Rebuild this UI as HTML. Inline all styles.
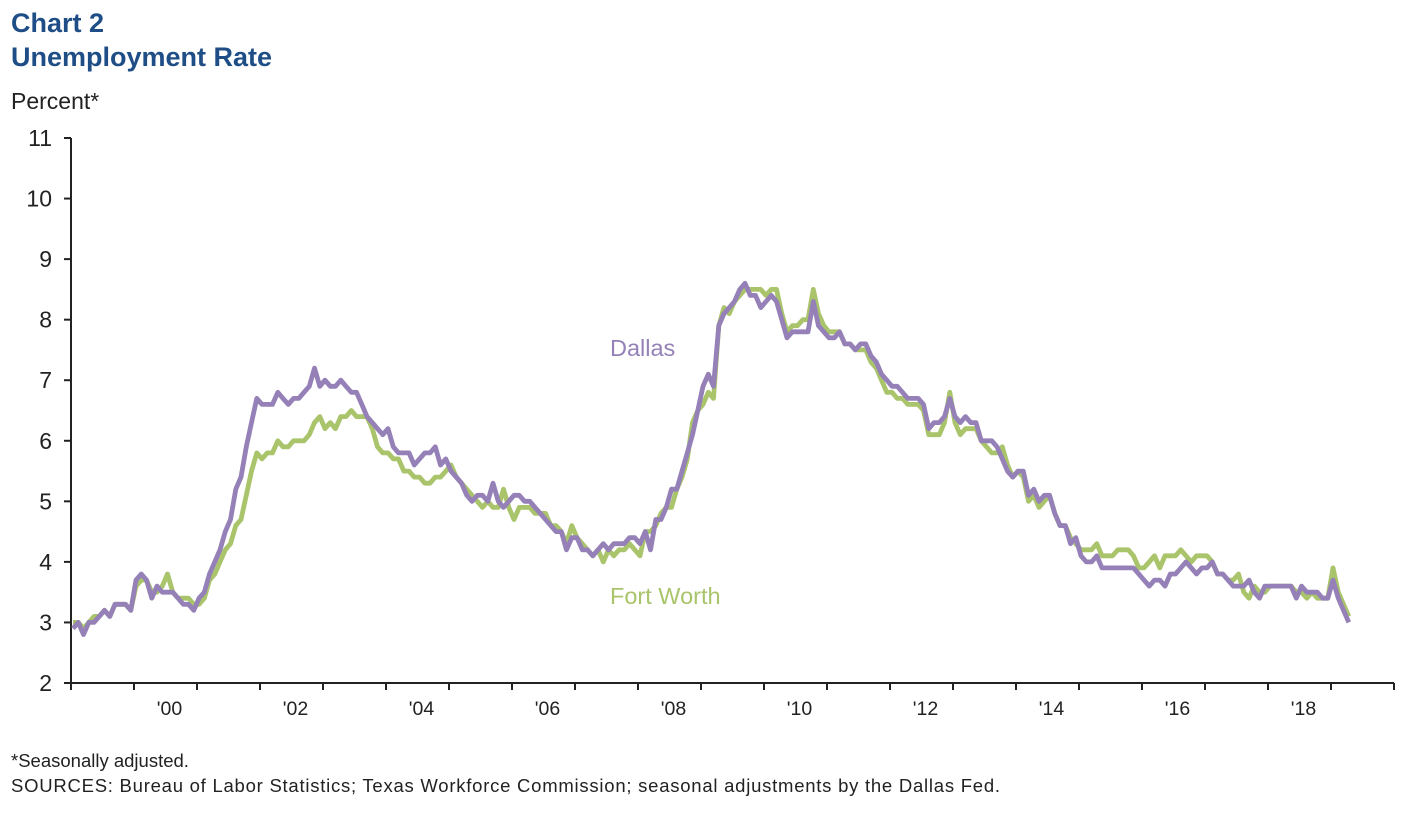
<!DOCTYPE html>
<html><head><meta charset="utf-8"><style>
body{margin:0;background:#fff;font-family:"Liberation Sans",Arial,sans-serif}
svg text{font-family:"Liberation Sans",Arial,sans-serif}
</style></head><body>
<svg width="1422" height="810" xmlns="http://www.w3.org/2000/svg">
<text x="11" y="32" font-size="27" font-weight="bold" fill="#1f4e87">Chart 2</text>
<text x="11" y="66" font-size="27" font-weight="bold" fill="#1f4e87">Unemployment Rate</text>
<text x="11" y="109" font-size="23" fill="#222">Percent*</text>
<g id="yaxis"></g>
<g id="xaxis"></g>
<g id="series"></g>
<text x="610" y="356" font-size="23.5" fill="#9581b7">Dallas</text>
<text x="610" y="604" font-size="23.5" fill="#a9c46a">Fort Worth</text>
<text x="11" y="767" font-size="18.5" fill="#222">*Seasonally adjusted.</text>
<text x="11" y="792" font-size="18.5" fill="#222" textLength="989" lengthAdjust="spacing">SOURCES: Bureau of Labor Statistics; Texas Workforce Commission; seasonal adjustments by the Dallas Fed.</text>
</svg>
<script>
const yTicks=[2,3,4,5,6,7,8,9,10,11];
const xLabels=["'00","'02","'04","'06","'08","'10","'12","'14","'16","'18"];
const startYear=1999, endYear=2020;
const dallas=[
2.9,3.0,2.8,3.0,3.0,3.1,3.2,3.1,3.3,3.3,3.3,3.2,
3.7,3.8,3.7,3.4,3.6,3.5,3.5,3.5,3.4,3.3,3.3,3.2,
3.4,3.5,3.8,4.0,4.2,4.5,4.7,5.2,5.4,5.9,6.3,6.7,
6.6,6.6,6.6,6.8,6.7,6.6,6.7,6.7,6.8,6.9,7.2,6.9,
7.0,6.9,6.9,7.0,6.9,6.8,6.8,6.6,6.4,6.3,6.2,6.1,
6.2,5.9,5.8,5.8,5.8,5.6,5.7,5.8,5.8,5.9,5.6,5.7,
5.5,5.4,5.3,5.1,5.0,5.1,5.1,5.0,5.3,5.0,4.9,5.0,
5.1,5.1,5.0,5.0,4.9,4.8,4.7,4.6,4.5,4.5,4.2,4.4,
4.4,4.2,4.2,4.1,4.2,4.3,4.2,4.3,4.3,4.3,4.4,4.4,
4.3,4.5,4.2,4.7,4.7,4.9,5.2,5.2,5.5,5.8,6.1,6.5,
6.9,7.1,6.9,7.9,8.1,8.2,8.3,8.5,8.6,8.4,8.4,8.2,
8.3,8.4,8.3,8.0,7.7,7.8,7.8,7.8,7.8,8.3,7.9,7.8,
7.7,7.7,7.8,7.6,7.6,7.5,7.6,7.6,7.4,7.3,7.1,7.0,
6.9,6.9,6.8,6.7,6.7,6.7,6.6,6.2,6.3,6.3,6.4,6.7,
6.4,6.3,6.4,6.3,6.3,6.0,6.0,6.0,5.9,5.7,5.5,5.4,
5.5,5.5,5.1,5.2,5.0,5.1,5.1,4.8,4.6,4.6,4.3,4.4,
4.1,4.0,4.0,4.1,3.9,3.9,3.9,3.9,3.9,3.9,3.9,3.8,
3.7,3.6,3.7,3.7,3.6,3.8,3.8,3.9,4.0,3.9,3.8,3.9,
3.9,4.0,3.8,3.8,3.7,3.6,3.6,3.6,3.7,3.5,3.4,3.6,
3.6,3.6,3.6,3.6,3.6,3.4,3.6,3.5,3.5,3.5,3.4,3.4,
3.7,3.4,3.2,3.0];
const fortWorth=[
3.0,3.0,2.9,3.0,3.1,3.1,3.2,3.1,3.3,3.3,3.3,3.2,
3.6,3.7,3.7,3.5,3.5,3.6,3.8,3.5,3.4,3.4,3.4,3.3,
3.3,3.4,3.7,3.8,4.0,4.2,4.3,4.6,4.7,5.1,5.5,5.8,
5.7,5.8,5.8,6.0,5.9,5.9,6.0,6.0,6.0,6.1,6.3,6.4,
6.2,6.3,6.2,6.4,6.4,6.5,6.4,6.4,6.4,6.2,5.9,5.8,
5.8,5.7,5.7,5.5,5.5,5.4,5.4,5.3,5.3,5.4,5.4,5.5,
5.6,5.4,5.3,5.2,5.1,5.0,4.9,5.0,4.9,4.9,5.2,4.9,
4.7,4.9,4.9,4.9,4.8,4.8,4.8,4.6,4.6,4.5,4.3,4.6,
4.4,4.3,4.2,4.1,4.2,4.0,4.2,4.1,4.2,4.2,4.3,4.2,
4.1,4.5,4.5,4.6,4.8,4.9,4.9,5.2,5.4,5.7,6.3,6.5,
6.6,6.8,6.7,7.9,8.2,8.1,8.3,8.4,8.5,8.5,8.5,8.5,
8.4,8.5,8.5,8.1,7.8,7.9,7.9,8.0,8.0,8.5,8.1,7.9,
7.8,7.8,7.8,7.6,7.6,7.5,7.5,7.5,7.3,7.2,7.0,6.8,
6.8,6.7,6.7,6.6,6.6,6.6,6.5,6.1,6.1,6.1,6.3,6.8,
6.3,6.1,6.2,6.2,6.2,6.0,5.9,5.8,5.8,5.9,5.6,5.4,
5.5,5.4,5.0,5.1,4.9,5.0,5.1,4.8,4.6,4.6,4.4,4.3,
4.2,4.2,4.2,4.3,4.1,4.1,4.1,4.2,4.2,4.2,4.1,3.9,
3.9,4.0,4.1,3.9,4.1,4.1,4.1,4.2,4.1,4.0,4.1,4.1,
4.1,4.0,3.8,3.8,3.7,3.7,3.8,3.5,3.4,3.6,3.5,3.5,
3.6,3.6,3.6,3.6,3.6,3.5,3.5,3.4,3.5,3.4,3.4,3.4,
3.9,3.5,3.3,3.1];

const NS="http://www.w3.org/2000/svg";
const X0=71,X1=1394,Y0=683,Y1=138,VMIN=2,VMAX=11;
const xOfMonth=m=>X0+2+(m/12)*(X1-X0)/(endYear-startYear);
const xOfYear=y=>X0+(y-startYear)*(X1-X0)/(endYear-startYear);
const yOf=v=>Y0-(v-VMIN)*(Y0-Y1)/(VMAX-VMIN);
function mk(tag,attrs,parent){const e=document.createElementNS(NS,tag);for(const k in attrs)e.setAttribute(k,attrs[k]);parent.appendChild(e);return e;}
const ya=document.getElementById('yaxis'),xa=document.getElementById('xaxis'),sg=document.getElementById('series');
let l=mk('line',{x1:X0,x2:X0,y1:Y1,y2:Y0,stroke:'#222','stroke-width':2},ya);


yTicks.forEach(v=>{
 const t=mk('line',{x1:X0-7,x2:X0,y1:yOf(v),y2:yOf(v),stroke:'#222','stroke-width':2},ya);
 
 
 const tx=mk('text',{x:X0-19,y:yOf(v)+8,'font-size':23,'text-anchor':'end',fill:'#222'},ya);
 tx.textContent=v;
 
 
});
l=mk('line',{x1:X0,x2:X1,y1:Y0,y2:Y0,stroke:'#222','stroke-width':2},xa);


for(let y=startYear;y<=endYear;y++){
 const t=mk('line',{x1:xOfYear(y),x2:xOfYear(y),y1:Y0,y2:Y0+7,stroke:'#222','stroke-width':2},xa);
 
 
}
xLabels.forEach((lab,i)=>{
 const yr=2000+i*2;
 const tx=mk('text',{x:(xOfYear(yr)+xOfYear(yr+1))/2+4,y:Y0+32,'font-size':19.5,'text-anchor':'middle',fill:'#222'},xa);
 tx.textContent=lab;
 
 
});
function line(data,color,name){
 const d=data.map((v,i)=>(i?'L':'M')+xOfMonth(i).toFixed(1)+','+yOf(v).toFixed(1)).join('');
 const p=mk('path',{d:d,fill:'none',stroke:color,'stroke-width':4.8,'stroke-linejoin':'round'},sg);
 
 
}
line(fortWorth,'#a9c46a','fort-worth-line');
line(dallas,'#9581b7','dallas-line');
</script>
</body></html>
